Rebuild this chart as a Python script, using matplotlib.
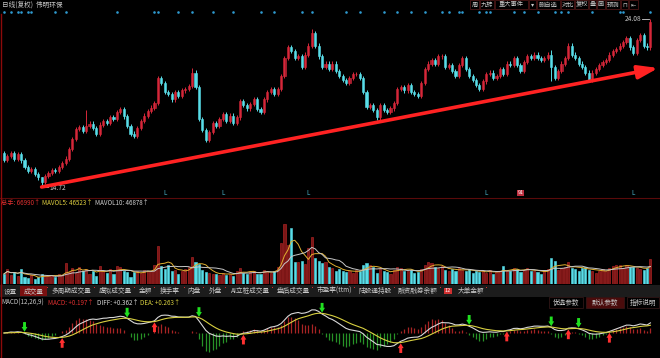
#packages
import numpy as np
import pandas as pd
import matplotlib
matplotlib.use('Agg')
import matplotlib.pyplot as plt
from matplotlib.patches import Rectangle

plt.rcParams['font.family'] = ['Noto Sans CJK SC', 'DejaVu Sans']

#data (daily candles, oldest first)
closes = [
    16.25, 16.45, 16.60, 16.30, 16.55, 16.20, 15.85, 15.60, 15.70, 15.45,
    15.25, 15.00, 15.35, 15.50, 15.65, 15.60, 15.85, 16.05, 16.30, 16.85,
    17.40, 17.95, 18.05, 17.85, 18.10, 18.25, 18.00, 17.70, 18.20, 18.40,
    18.30, 18.60, 18.50, 18.90, 19.05, 18.65, 18.10, 17.70, 17.55, 18.00,
    18.40, 18.70, 18.95, 19.15, 19.40, 20.80, 20.50, 20.00, 19.90, 19.60,
    20.00, 19.80, 20.10, 20.20, 20.35, 21.10, 20.30, 18.50, 17.90, 17.35,
    17.80, 18.30, 18.10, 18.50, 18.80, 18.40, 18.70, 18.30, 18.60, 19.50,
    19.30, 19.10, 19.35, 19.60, 19.05, 18.90, 19.60, 20.00, 20.20, 19.90,
    20.20, 20.90, 21.90, 22.50, 22.30, 21.90, 22.00, 21.40, 22.10, 22.60,
    23.30, 22.60, 22.00, 21.40, 21.60, 21.30, 21.60, 21.20, 20.90, 20.70,
    20.50, 20.80, 21.00, 21.00, 20.80, 20.00, 19.20, 19.30, 19.00, 18.60,
    19.30, 19.00, 18.90, 19.10, 19.40, 20.20, 20.30, 20.10, 20.40, 20.00,
    19.90, 19.80, 20.50, 21.30, 21.60, 21.80, 21.60, 22.00, 22.00, 21.40,
    21.50, 21.20, 20.90, 21.50, 21.90, 21.30, 20.90, 20.70, 20.40, 20.20,
    20.60, 21.00, 21.10, 20.80, 20.90, 21.30, 21.00, 21.60, 21.50, 21.90,
    21.50, 21.20, 21.70, 22.00, 21.90, 22.10, 21.90, 21.80, 21.90, 22.10,
    21.40, 20.80, 21.20, 21.60, 21.90, 22.60, 22.10, 21.90, 21.60, 21.40,
    21.10, 20.70, 21.10, 21.30, 21.50, 21.70, 21.80, 22.10, 22.30, 22.40,
    22.60, 22.80, 23.00, 22.50, 22.20, 22.90, 23.20, 22.60, 22.50, 23.90,
]
first_open = 16.60

volumes = [
    27000, 40000, 24000, 32000, 21000, 40000, 19000, 16000, 24000, 13000,
    18000, 27000, 22000, 25000, 21000, 19000, 27000, 24000, 56000, 33000,
    42000, 30000, 45000, 36000, 40000, 28000, 34000, 22000, 48000, 36000,
    30000, 41000, 26000, 48000, 45000, 35000, 33000, 20000, 31000, 36000,
    30000, 38000, 34000, 36000, 52000, 102000, 48000, 40000, 52000, 35000,
    38000, 28000, 34000, 40000, 46000, 72000, 60000, 54000, 38000, 32000,
    30000, 26000, 28000, 24000, 30000, 25000, 28000, 22000, 34000, 44000,
    30000, 27000, 32000, 36000, 28000, 26000, 38000, 36000, 30000, 34000,
    45000, 110000, 160000, 105000, 150000, 60000, 58000, 62000, 54000, 95000,
    125000, 70000, 62000, 56000, 58000, 46000, 42000, 36000, 40000, 34000,
    32000, 36000, 30000, 38000, 34000, 50000, 56000, 52000, 45000, 30000,
    40000, 34000, 32000, 28000, 38000, 46000, 44000, 36000, 34000, 38000,
    30000, 32000, 40000, 52000, 60000, 56000, 46000, 42000, 48000, 38000,
    34000, 40000, 36000, 42000, 38000, 34000, 40000, 30000, 36000, 32000,
    34000, 30000, 38000, 28000, 32000, 36000, 48000, 34000, 36000, 42000,
    40000, 32000, 38000, 44000, 36000, 34000, 32000, 28000, 36000, 40000,
    70000, 62000, 38000, 42000, 46000, 58000, 44000, 40000, 36000, 42000,
    46000, 38000, 34000, 30000, 36000, 40000, 34000, 44000, 48000, 52000,
    52000, 44000, 50000, 46000, 44200, 44000, 40000, 38000, 43600, 66990,
]

# candles with a visible long shadow: index -> (high, low)
long_wicks = {11: (15.30, 14.72), 24: (19.00, None), 55: (21.35, None),
              59: (None, 17.20), 90: (23.55, None), 160: (22.35, 20.60),
              189: (24.08, None)}

# info dots on top row / small markers at the bottom of the price pane
event_days = [0, 2, 4, 5, 7, 8, 15, 18, 33, 44, 45, 51, 55, 61, 67, 75, 79,
              87, 90, 100, 104, 111, 115, 119, 123, 128, 130, 133, 134, 139,
              141, 142, 149, 152, 156, 161, 163, 165, 172, 180, 181, 189]
mark_days = [47, 64, 89, 141, 184]
box_day = 151

title = '日线(复权)  伟明环保'
toolbar = ['周', '九转', '重大事件', '▾', '删自选', '对比', '复权', '叠', '画', '预测', '⊓', '⇤']
tabs = ['设置', '成交量', '多周期成交量', '虚拟成交量', '金额', '换手率', '内盘', '外盘',
        'AI立桩成交量', '盘后成交量', '市盈率(ttm)', '陆股通持股', '融资融券余额', '大单金额']
vol_texts = ['总手: 66990↑', 'MAVOL5: 46523↑', 'MAVOL10: 46878↑']
macd_texts = ['MACD(12,26,9)', 'MACD: +0.197↑', 'DIFF: +0.362↑', 'DEA: +0.263↑']
buttons = ['优选参数', '默认参数', '指标说明']

#layout helpers (screen pixels -> figure fractions)
W, H = 660, 358
XLIM = (-1.17, 191.8)

def fx(x):
    return x / W

def fy(y):
    return 1 - y / H

def add_strip(fig, top, bottom):
    ax = fig.add_axes([0, fy(bottom), 1, (bottom - top) / H])
    ax.set_facecolor('black')
    ax.set_xlim(*XLIM)
    ax.axis('off')
    return ax

def px_box(fig, x0, x1, y0, y1, fc='black', ec='#5a1a1a'):
    # rectangle given in screen pixels
    fig.add_artist(Rectangle((fx(x0), fy(y1)), fx(x1 - x0), (y1 - y0) / H,
                             fc=fc, ec=ec, lw=0.5))

#derived series
closes = np.array(closes)
opens = np.r_[first_open, closes[:-1]]
idx = np.arange(len(closes))
up = closes >= opens
highs = np.maximum(opens, closes) + 0.12
lows = np.minimum(opens, closes) - 0.12
for k, (h, l) in long_wicks.items():
    if h is not None:
        highs[k] = h
    if l is not None:
        lows[k] = l

RED = '#d8283a'
CYAN = '#58dde8'

fig = plt.figure(figsize=(6.6, 3.58), dpi=100, facecolor='black')

#price pane
ax = add_strip(fig, 14, 197)
ax.set_ylim(14.163, 24.36)
cols = np.where(up, RED, CYAN)
ax.vlines(idx, lows, highs, colors=cols, lw=0.7)
ax.bar(idx, np.maximum(np.abs(closes - opens), 0.04), bottom=np.minimum(opens, closes),
       width=0.62, color=np.where(up, '#a81e30', CYAN), edgecolor=cols, lw=0.4)

lo = int(np.argmin(lows))
hi = int(np.argmax(highs))
ax.plot([lo, lo + 2], [lows[lo], lows[lo]], color='#d0d0d0', lw=0.6)
ax.text(lo + 2.2, lows[lo] - 0.06, f'{lows[lo]:.2f}', color='#c8c8c8', fontsize=4.8, va='center')
ax.plot([hi - 2.4, hi - 0.5], [highs[hi], highs[hi]], color='#d0d0d0', lw=0.6)
ax.text(hi - 2.6, highs[hi], f'{highs[hi]:.2f}', color='#c8c8c8', fontsize=4.8, va='center', ha='right')

# trend arrow from the low
ax.annotate('', xy=(191.3, 21.35), xytext=(lo, lows[lo]),
            arrowprops=dict(arrowstyle='-|>,head_length=1.2,head_width=0.4',
                            color='#ff2222', lw=2.6, shrinkA=0, shrinkB=0))

for d in mark_days:
    ax.text(d, 14.39, 'L', color='#4ab8d0', fontsize=4.5, ha='center', va='center')
ax.text(box_day, 14.39, '91', color='white', fontsize=3.8, ha='center', va='center',
        bbox=dict(fc='#c03040', ec='none', pad=0.4))

#top row: title, info dots, toolbar
top = add_strip(fig, 0, 14)
top.set_ylim(14, 0)
top.scatter(event_days, [12] * len(event_days), s=3.5, color='#2e9ad0', lw=0)
fig.text(fx(2), fy(4.5), title, color='#c8c8c8', fontsize=4.8, va='center')
tb_x = [(470, 479), (480, 494), (495, 528), (529, 536), (537, 560), (561, 574),
        (575, 588), (589, 596), (597, 605), (606, 620), (621, 628), (629, 638)]
for lab, (x0, x1) in zip(toolbar, tb_x):
    px_box(fig, x0, x1, 0, 9)
    fig.text(fx((x0 + x1) / 2), fy(4.5), lab, color='#c8c8c8', fontsize=4.5,
             ha='center', va='center')

#volume pane
av = add_strip(fig, 207, 284)
av.set_ylim(0, 206000)
vol = pd.Series(volumes)
av.bar(idx, vol, width=0.62, color=np.where(up, '#7c1616', CYAN),
       edgecolor=np.where(up, '#c02828', CYAN), lw=0.4)
av.plot(idx, vol.rolling(5, min_periods=1).mean(), color='#e0b030', lw=0.7)
av.plot(idx, vol.rolling(10, min_periods=1).mean(), color='#c8c8c8', lw=0.7)
for t, x, c in zip(vol_texts, [1, 42, 95], ['#e03030', '#e0d040', '#d0d0d0']):
    fig.text(fx(x), fy(203), t, color=c, fontsize=4.5, va='center')

# separators
fig.add_artist(plt.Line2D([0, 1], [fy(198), fy(198)], color='#5a0a0a', lw=0.8))
fig.add_artist(plt.Line2D([fx(1), fx(1)], [fy(14), 0], color='#8b0a0a', lw=1))

#indicator tabs
fig.add_artist(Rectangle((0, fy(297)), 1, 12 / H, color='#1c1c1c', lw=0))
tab_x = [(3, 18), (22, 45), (50, 92), (98, 132), (138, 152), (158, 182), (187, 201),
         (208, 223), (230, 270), (276, 310), (316, 352), (358, 392), (398, 438), (458, 484)]
for lab, (x0, x1) in zip(tabs, tab_x):
    if lab == '成交量':
        fig.add_artist(Rectangle((fx(x0 - 2), fy(296)), fx(x1 - x0 + 4), 10 / H, color='#7a1010', lw=0))
    fig.text(fx((x0 + x1) / 2), fy(291), lab, color='#c8c8c8', fontsize=4.8, ha='center', va='center')
    fig.add_artist(Rectangle((fx(x1 + 2), fy(288)), fx(1.2), 1.2 / H, color='#d03030', lw=0))
fig.text(fx(448), fy(291), '12', color='white', fontsize=4, ha='center', va='center',
         bbox=dict(fc='#d03030', ec='none', pad=0.3))

#MACD pane
am = add_strip(fig, 308, 358)
s = pd.Series(closes)
diff = s.ewm(span=12, adjust=False).mean() - s.ewm(span=26, adjust=False).mean()
dea = diff.ewm(span=9, adjust=False).mean()
macd = 2 * (diff - dea)
a = max(diff.abs().max(), dea.abs().max(), macd.abs().max()) * 1.08
am.set_ylim(-a, a)
am.vlines(idx, 0, macd, colors=np.where(macd >= 0, '#a82424', '#279227'), lw=0.9)
am.plot(idx, diff, color='#d8d8d8', lw=0.8)
am.plot(idx, dea, color='#d8d040', lw=0.8)

# golden / dead cross arrows
arrow = 'simple,head_length=0.5,head_width=0.6,tail_width=0.3'
sign = np.sign(diff - dea).values
for i in range(1, len(sign)):
    if sign[i - 1] < 0 and sign[i] >= 0:
        am.annotate('', xy=(i, dea[i] - 0.03 * a), xytext=(0, -7), textcoords='offset points',
                    arrowprops=dict(arrowstyle=arrow, color='#ff3030', lw=0,
                                    shrinkA=0, shrinkB=0, mutation_scale=7))
    elif sign[i - 1] > 0 and sign[i] <= 0:
        am.annotate('', xy=(i, dea[i] + 0.03 * a), xytext=(0, 7), textcoords='offset points',
                    arrowprops=dict(arrowstyle=arrow, color='#20e020', lw=0,
                                    shrinkA=0, shrinkB=0, mutation_scale=7))

for t, x, c in zip(macd_texts, [1, 48, 97, 140], ['#c8c8c8', '#e03030', '#d8d8d8', '#d8d040']):
    fig.text(fx(x), fy(303), t, color=c, fontsize=4.5, va='center')
for lab, (x0, x1) in zip(buttons, [(549, 583), (586, 624), (627, 659)]):
    px_box(fig, x0, x1, 297, 308, fc='#4a0c0c' if lab == '默认参数' else 'black', ec='#3a1a1a')
    fig.text(fx((x0 + x1) / 2), fy(302.5), lab, color='#c8c8c8', fontsize=4.8,
             ha='center', va='center')

fig.savefig('out.png', dpi=100, facecolor='black')
